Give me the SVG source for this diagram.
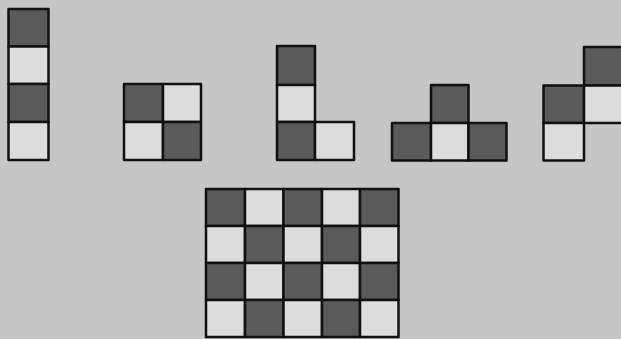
<svg xmlns="http://www.w3.org/2000/svg" width="621" height="339" viewBox="0 0 621 339">
<style>
.d{fill:#5a5a5a;stroke:#111;stroke-width:2.5;stroke-linejoin:round}
.l{fill:#dcdcdc;stroke:#111;stroke-width:2.5;stroke-linejoin:round}
</style>
<rect width="621" height="339" fill="#c6c6c6"/>
<g id="piece-i">
<rect class="d" x="8.5" y="9" width="40" height="37.5"/>
<rect class="l" x="8.5" y="46.5" width="40" height="37.5"/>
<rect class="d" x="8.5" y="84" width="40" height="38"/>
<rect class="l" x="8.5" y="122" width="40" height="38"/>
</g>
<g id="piece-o">
<rect class="d" x="124" y="84" width="39" height="38"/>
<rect class="l" x="163" y="84" width="38" height="38"/>
<rect class="l" x="124" y="122" width="39" height="38"/>
<rect class="d" x="163" y="122" width="38" height="38"/>
</g>
<g id="piece-l">
<rect class="d" x="277" y="46" width="38" height="39"/>
<rect class="l" x="277" y="85" width="38" height="37"/>
<rect class="d" x="277" y="122" width="38" height="38"/>
<rect class="l" x="315" y="122" width="39" height="38"/>
</g>
<g id="piece-t">
<rect class="d" x="431" y="85" width="37.5" height="38"/>
<rect class="d" x="392" y="123" width="39" height="37.5"/>
<rect class="l" x="431" y="123" width="37.5" height="37.5"/>
<rect class="d" x="468.5" y="123" width="38" height="37.5"/>
</g>
<g id="piece-s">
<rect class="d" x="584" y="47" width="40" height="38.5"/>
<rect class="d" x="543.5" y="85.5" width="40.5" height="37.5"/>
<rect class="l" x="584" y="85.5" width="40" height="37.5"/>
<rect class="l" x="543.5" y="123" width="40.5" height="37.5"/>
</g>
<g id="board">
<rect class="d" x="206" y="189" width="39" height="37"/>
<rect class="l" x="245" y="189" width="38.5" height="37"/>
<rect class="d" x="283.5" y="189" width="38.5" height="37"/>
<rect class="l" x="322" y="189" width="38" height="37"/>
<rect class="d" x="360" y="189" width="38.5" height="37"/>
<rect class="l" x="206" y="226" width="39" height="37"/>
<rect class="d" x="245" y="226" width="38.5" height="37"/>
<rect class="l" x="283.5" y="226" width="38.5" height="37"/>
<rect class="d" x="322" y="226" width="38" height="37"/>
<rect class="l" x="360" y="226" width="38.5" height="37"/>
<rect class="d" x="206" y="263" width="39" height="37"/>
<rect class="l" x="245" y="263" width="38.5" height="37"/>
<rect class="d" x="283.5" y="263" width="38.5" height="37"/>
<rect class="l" x="322" y="263" width="38" height="37"/>
<rect class="d" x="360" y="263" width="38.5" height="37"/>
<rect class="l" x="206" y="300" width="39" height="37"/>
<rect class="d" x="245" y="300" width="38.5" height="37"/>
<rect class="l" x="283.5" y="300" width="38.5" height="37"/>
<rect class="d" x="322" y="300" width="38" height="37"/>
<rect class="l" x="360" y="300" width="38.5" height="37"/>
</g>
</svg>
